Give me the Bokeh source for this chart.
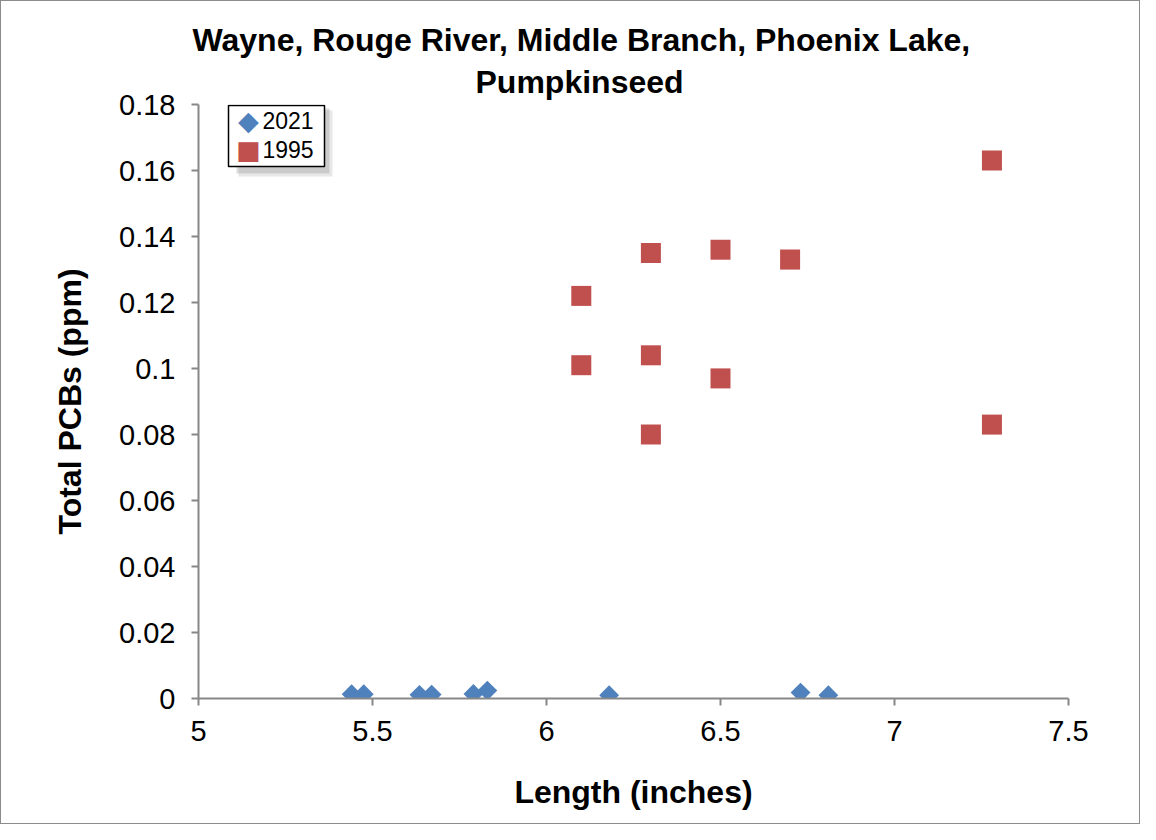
import numpy as np
from bokeh.plotting import figure
from bokeh.models import (Range1d, FixedTicker, Label, Title, BoxAnnotation,
                          InlineStyleSheet)
from bokeh.embed import file_html
from bokeh.resources import INLINE

# ---- data ----
len_2021 = [5.44, 5.475, 5.635, 5.67, 5.79, 5.83, 6.18, 6.73, 6.81]
pcb_2021 = [0.0013, 0.0013, 0.0011, 0.0012, 0.0014, 0.0024, 0.0010, 0.0018, 0.0010]

len_1995 = [7.28, 6.30, 6.50, 6.70, 6.10, 6.10, 6.30, 6.50, 6.30, 7.28]
pcb_1995 = [0.163, 0.135, 0.136, 0.133, 0.122, 0.101, 0.104, 0.097, 0.080, 0.083]

x_ticks = [5, 5.5, 6, 6.5, 7, 7.5]
x_tick_labels = ["5", "5.5", "6", "6.5", "7", "7.5"]
y_ticks = [0, 0.02, 0.04, 0.06, 0.08, 0.1, 0.12, 0.14, 0.16, 0.18]
y_tick_labels = ["0", "0.02", "0.04", "0.06", "0.08", "0.1", "0.12", "0.14", "0.16", "0.18"]

title_lines = ["Wayne, Rouge River, Middle Branch, Phoenix Lake,", "Pumpkinseed"]
series_names = ["2021", "1995"]
series_colors = ["#4F81BD", "#C0504D"]

FONT = "Liberation Sans"
AXIS_COLOR = "#878787"

p = figure(
    width=1138, height=822,
    frame_width=870, frame_height=594,
    min_border_left=197, min_border_right=71,
    min_border_top=103, min_border_bottom=125,
    x_range=Range1d(5, 7.5), y_range=Range1d(0, 0.18),
    output_backend="svg", toolbar_location=None, tools="",
)
p.stylesheets = [InlineStyleSheet(css=":host { border: 1px solid #8c8c8c; }")]
p.background_fill_color = "white"
p.border_fill_color = "white"
p.outline_line_color = None
p.xgrid.visible = False
p.ygrid.visible = False

# axes
for ax in (p.xaxis[0], p.yaxis[0]):
    ax.axis_line_color = AXIS_COLOR
    ax.axis_line_width = 2
    ax.major_tick_line_color = AXIS_COLOR
    ax.major_tick_line_width = 2
    ax.major_tick_out = 7
    ax.major_tick_in = 0
    ax.minor_tick_line_color = None
    ax.major_label_text_font = FONT
    ax.major_label_text_font_size = "29px"
    ax.major_label_text_color = "black"
    ax.axis_label_text_font = FONT
    ax.axis_label_text_font_size = "32px"
    ax.axis_label_text_font_style = "bold"
    ax.axis_label_text_color = "black"

p.xaxis.ticker = FixedTicker(ticks=x_ticks)
p.xaxis.major_label_overrides = {t: l for t, l in zip(x_ticks, x_tick_labels)}
p.yaxis.ticker = FixedTicker(ticks=y_ticks)
p.yaxis.major_label_overrides = {t: l for t, l in zip(y_ticks, y_tick_labels)}
p.xaxis.major_label_standoff = 15
p.yaxis.major_label_standoff = 16
p.xaxis.axis_label = "Length (inches)"
p.yaxis.axis_label = "Total PCBs (ppm)"
p.xaxis.axis_label_standoff = 30
p.yaxis.axis_label_standoff = 28

# data
p.scatter(len_2021, pcb_2021, marker="square", angle=np.pi / 4, size=14,
          fill_color=series_colors[0], line_color=None)
p.scatter(len_1995, pcb_1995, marker="square", size=20,
          fill_color=series_colors[1], line_color=None)

# legend (box with soft shadow, symbols and labels), screen units relative to the frame
def sbox(l, r, t, b, **kw):
    return BoxAnnotation(left=l, right=r, top=t, bottom=b,
                         left_units="screen", right_units="screen",
                         top_units="screen", bottom_units="screen",
                         level="annotation", **kw)

p.add_layout(sbox(40, 134, 588, 522, fill_color="#808080", fill_alpha=0.18, line_color=None))
p.add_layout(sbox(38, 131, 590, 525, fill_color="#808080", fill_alpha=0.28, line_color=None))
p.add_layout(sbox(30, 126, 593, 532, fill_color="white", fill_alpha=1.0,
                  line_color="black", line_width=1.5, line_alpha=1.0))
p.add_layout(Label(x=50, y=578, x_units="screen", y_units="screen", text="\u25C6",
                   text_align="center", text_baseline="middle",
                   text_font="DejaVu Sans", text_font_size="27px",
                   text_color=series_colors[0]))
p.add_layout(Label(x=50, y=549, x_units="screen", y_units="screen", text="\u25A0",
                   text_align="center", text_baseline="middle",
                   text_font="DejaVu Sans", text_font_size="26px",
                   text_color=series_colors[1]))
p.add_layout(Label(x=64, y=578, x_units="screen", y_units="screen", text=series_names[0],
                   text_align="left", text_baseline="middle",
                   text_font=FONT, text_font_size="23px", text_color="black"))
p.add_layout(Label(x=64, y=549, x_units="screen", y_units="screen", text=series_names[1],
                   text_align="left", text_baseline="middle",
                   text_font=FONT, text_font_size="23px", text_color="black"))

# title (two lines): the added Title sits nearest the frame
p.title.text = title_lines[0]
p.title.align = "left"
p.title.offset = -6
p.title.standoff = -3
p.title.text_font = FONT
p.title.text_font_size = "32px"
p.title.text_font_style = "bold"
p.title.text_color = "black"
p.add_layout(Title(text=title_lines[1], align="left", offset=277, text_font=FONT,
                   text_font_size="32px", text_font_style="bold", text_color="black"),
             "above")

open("out.html", "w").write(file_html(p, INLINE))
